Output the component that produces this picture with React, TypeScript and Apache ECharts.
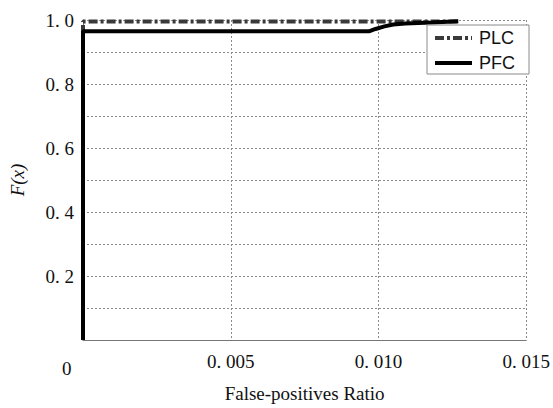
import React, { useEffect, useRef } from "react";
import * as echarts from "echarts";

const seriesNames = ["PLC", "PFC"];
const plcPoints: [number, number][] = [
  [0, 0],
  [0, 0.995],
  [0.0127, 0.995],
];
const pfcPoints: [number, number][] = [
  [0, 0],
  [0, 0.965],
  [0.0097, 0.965],
  [0.0099, 0.972],
  [0.0102, 0.98],
  [0.0105, 0.986],
  [0.0109, 0.989],
  [0.0118, 0.992],
  [0.0127, 0.996],
];
const xTicks = [0, 0.005, 0.01, 0.015];
const yTicks = [0, 0.2, 0.4, 0.6, 0.8, 1.0];

const serif = "'Liberation Serif', 'Times New Roman', serif";

function fmt(v: number, digits: number) {
  const s = v.toFixed(digits);
  return s.replace(".", ". ");
}

export default function App() {
  const ref = useRef<HTMLDivElement>(null);
  useEffect(() => {
    if (!ref.current) return;
    const chart = echarts.init(ref.current, undefined, { renderer: "svg" });
    const gridLine = { show: true, lineStyle: { color: "#8a8a8a", width: 1, type: [2, 2] as any } };
    chart.setOption({
      animation: false,
      backgroundColor: "#ffffff",
      grid: { left: 81, right: 26, top: 20, bottom: 60, containLabel: false },
      legend: {
        orient: "vertical",
        left: 427,
        top: 25,
        padding: [4, 14, 2, 6],
        itemGap: 7,
        itemWidth: 37,
        itemHeight: 14,
        backgroundColor: "#ffffff",
        borderColor: "#8a8a8a",
        borderWidth: 1,
        itemStyle: { opacity: 0 },
        lineStyle: { width: 4 },
        textStyle: { fontFamily: "'Liberation Sans', Arial, sans-serif", fontSize: 18, color: "#111", padding: [0, 0, 0, 2] },
        data: seriesNames,
      },
      xAxis: {
        type: "value",
        min: xTicks[0],
        max: xTicks[xTicks.length - 1],
        interval: 0.005,
        name: "False-positives Ratio",
        nameLocation: "middle",
        nameGap: 44,
        nameTextStyle: { fontFamily: serif, fontSize: 19, color: "#111" },
        axisLine: { show: true, lineStyle: { color: "#777", width: 1 } },
        axisTick: { show: false },
        axisLabel: {
          showMinLabel: false,
          margin: 12,
          fontFamily: serif,
          fontSize: 19,
          color: "#111",
          formatter: (v: number) => fmt(v, 3),
        },
        splitLine: gridLine,
      },
      yAxis: {
        type: "value",
        min: yTicks[0],
        max: yTicks[yTicks.length - 1],
        interval: 0.2,
        name: "F(x)",
        nameLocation: "middle",
        nameGap: 56,
        nameTextStyle: { fontFamily: serif, fontSize: 19, fontStyle: "italic", color: "#111" },
        axisLine: { show: true, lineStyle: { color: "#777", width: 1 } },
        axisTick: { show: false },
        axisLabel: {
          showMinLabel: false,
          margin: 9,
          fontFamily: serif,
          fontSize: 19,
          color: "#111",
          formatter: (v: number) => fmt(v, 1),
        },
        splitLine: gridLine,
        minorTick: { show: false, splitNumber: 2 },
        minorSplitLine: gridLine,
      },
      graphic: [
        {
          type: "text",
          left: 62,
          top: 359,
          style: { text: "0", fontFamily: serif, fontSize: 19, fill: "#111" },
        },
      ],
      series: [
        {
          name: seriesNames[0],
          type: "line",
          data: plcPoints,
          symbol: "none",
          color: "#3a3a3a",
          lineStyle: { color: "#3a3a3a", width: 4, type: [9, 3, 3, 3] },
        },
        {
          name: seriesNames[1],
          type: "line",
          data: pfcPoints,
          symbol: "none",
          color: "#000000",
          lineStyle: { color: "#000000", width: 4, type: "solid" },
        },
      ],
    });
    return () => chart.dispose();
  }, []);
  return <div ref={ref} style={{ position: "fixed", left: 0, top: 0, width: 553, height: 408 }} />;
}
